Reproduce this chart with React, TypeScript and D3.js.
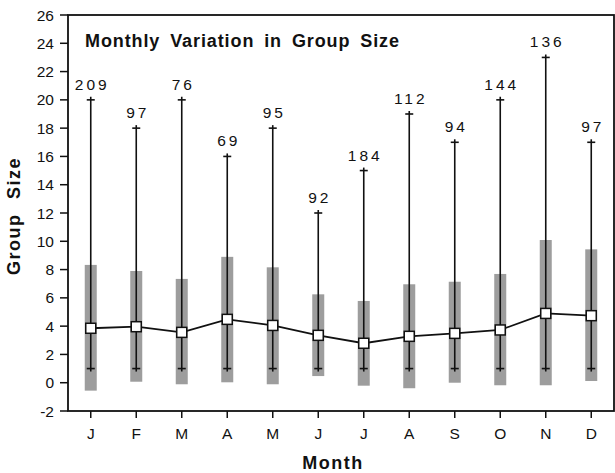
import React from 'react';
import * as d3 from 'd3';

const months = ['J', 'F', 'M', 'A', 'M', 'J', 'J', 'A', 'S', 'O', 'N', 'D'];
const counts = [209, 97, 76, 69, 95, 92, 184, 112, 94, 144, 136, 97];
const means = [3.85, 3.96, 3.56, 4.48, 4.05, 3.35, 2.79, 3.28, 3.49, 3.73, 4.9, 4.74];
const boxLow = [-0.56, 0.07, -0.11, 0.03, -0.11, 0.47, -0.21, -0.39, 0.0, -0.18, -0.18, 0.12];
const boxHigh = [8.33, 7.9, 7.34, 8.9, 8.16, 6.25, 5.78, 6.96, 7.14, 7.69, 10.09, 9.43];
const whiskerLow = [1, 1, 1, 1, 1, 1, 1, 1, 1, 1, 1, 1];
const whiskerHigh = [20, 18, 20, 16, 18, 12, 15, 19, 17, 20, 23, 17];
const yTicks = [-2, 0, 2, 4, 6, 8, 10, 12, 14, 16, 18, 20, 22, 24, 26];

const W = 615;
const H = 473;
const left = 68, right = 614, top = 15, bottom = 411;
const font = "'Liberation Sans', Arial, Helvetica, sans-serif";

export default function App() {
  const x = d3.scaleLinear().domain([0.5, 12.5]).range([left, right]);
  const y = d3.scaleLinear().domain([-2, 26]).range([bottom, top]);
  const line = d3.line<number>().x((_, i) => x(i + 1)).y((d) => y(d));
  const boxW = 12;
  const sq = 10;
  const tickW = 8;

  return (
    <svg width={W} height={H} style={{ position: 'absolute', left: 0, top: 0, background: '#fff' }} fontFamily={font}>
      {/* boxes */}
      {months.map((m, i) => (
        <rect key={'b' + i} x={x(i + 1) - boxW / 2} y={y(boxHigh[i])} width={boxW}
          height={y(boxLow[i]) - y(boxHigh[i])} fill="#9d9d9d" />
      ))}
      {/* whiskers */}
      {months.map((m, i) => {
        const cx = x(i + 1);
        return (
          <g key={'w' + i} stroke="#111" strokeWidth={1.6}>
            <line x1={cx} x2={cx} y1={y(whiskerHigh[i]) - 3} y2={y(whiskerLow[i]) + 3} />
            <line x1={cx - tickW / 2} x2={cx + tickW / 2} y1={y(whiskerHigh[i])} y2={y(whiskerHigh[i])} />
            <line x1={cx - tickW / 2} x2={cx + tickW / 2} y1={y(whiskerLow[i])} y2={y(whiskerLow[i])} />
          </g>
        );
      })}
      {/* count labels */}
      {months.map((m, i) => (
        <text key={'c' + i} x={x(i + 1) + 1.5} y={y(whiskerHigh[i]) - 10} textAnchor="middle"
          fontSize={15.5} letterSpacing={3} fill="#111">{counts[i]}</text>
      ))}
      {/* mean line */}
      <path d={line(means) || ''} fill="none" stroke="#111" strokeWidth={1.8} />
      {means.map((v, i) => (
        <rect key={'s' + i} x={x(i + 1) - sq / 2} y={y(v) - sq / 2} width={sq} height={sq}
          fill="#fff" stroke="#111" strokeWidth={1.5} />
      ))}
      {/* frame */}
      <rect x={left} y={top} width={right - left} height={bottom - top} fill="none" stroke="#111" strokeWidth={1.8} />
      {/* y ticks */}
      {yTicks.map((t) => (
        <g key={'y' + t}>
          <line x1={left - 8} x2={left} y1={y(t)} y2={y(t)} stroke="#111" strokeWidth={1.5} />
          <text x={left - 14} y={y(t) + 5.5} textAnchor="end" fontSize={15.5} fill="#111">{t}</text>
        </g>
      ))}
      {/* x ticks */}
      {months.map((m, i) => (
        <g key={'x' + i}>
          <line x1={x(i + 1)} x2={x(i + 1)} y1={bottom} y2={bottom + 7} stroke="#111" strokeWidth={1.5} />
          <text x={x(i + 1)} y={439} textAnchor="middle" fontSize={15.5} fill="#111">{m}</text>
        </g>
      ))}
      {/* title */}
      <text x={85} y={47} fontSize={18} fontWeight="bold" letterSpacing={0.9} wordSpacing={4} fill="#111">Monthly Variation in Group Size</text>
      {/* axis labels */}
      <text x={333} y={469} textAnchor="middle" fontSize={18} fontWeight="bold" letterSpacing={1.5} fill="#111">Month</text>
      <text transform={`translate(20,216) rotate(-90)`} textAnchor="middle" fontSize={18} fontWeight="bold"
        wordSpacing={8} letterSpacing={1.5} fill="#111">Group Size</text>
    </svg>
  );
}
